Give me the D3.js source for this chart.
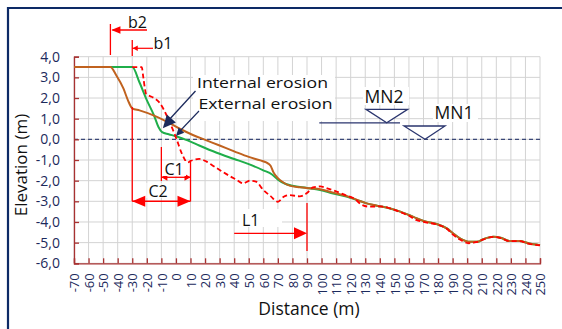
<!DOCTYPE html>
<html><head><meta charset="utf-8">
<script src="https://cdn.jsdelivr.net/npm/d3@7"></script>
<style>body{margin:0;background:#fff}svg{display:block}text{font-family:"Open Sans","Noto Sans",sans-serif}</style>
</head><body><svg id="c" width="562" height="329"></svg>
<script>
const xTickLabels = [-70,-60,-50,-40,-30,-20,-10,0,10,20,30,40,50,60,70,80,90,100,110,120,130,140,150,160,170,180,190,200,210,220,230,240,250];
const yTickLabels = [4,3,2,1,0,-1,-2,-3,-4,-5,-6];

// profile after erosion (brown)
const brownX = [-70,-45,-41,-36,-33,-30,-25,-15,-6,3,12,21,30,40,50,58,62,65,67,70,74,78,85,92,99,108,117,126,131,138,147,154,163,170,179,186,190,195,202,207,211,218,223,229,236,242,250];
const brownY = [3.5,3.5,3.1,2.45,1.9,1.5,1.4,1.15,0.85,0.5,0.2,-0.05,-0.3,-0.58,-0.85,-1.02,-1.12,-1.28,-1.6,-1.88,-2.1,-2.24,-2.32,-2.37,-2.42,-2.58,-2.74,-2.97,-3.1,-3.21,-3.34,-3.5,-3.75,-3.95,-4.1,-4.31,-4.53,-4.79,-4.96,-4.96,-4.83,-4.71,-4.76,-4.92,-4.92,-5.03,-5.12];
// green profile
const greenX = [-45,-30,-25,-20,-15,-12,-9.5,-5,0,8,16,28,40,50,60,66,70,75,80,90,99,108,117,126,131,138,147,154,163,170,179,186,190,195,202,207,211,218,223,229,236,242,250];
const greenY = [3.5,3.5,2.75,1.9,1.15,0.6,0.35,0.25,0.15,-0.05,-0.3,-0.65,-0.95,-1.2,-1.5,-1.7,-1.95,-2.15,-2.25,-2.35,-2.45,-2.62,-2.77,-2.98,-3.1,-3.21,-3.35,-3.5,-3.75,-3.95,-4.1,-4.31,-4.53,-4.79,-4.96,-4.96,-4.83,-4.71,-4.76,-4.92,-4.92,-5.03,-5.12];
// red dashed profile
const redX = [-30,-23.5,-22.4,-20.5,-18,-15,-11,-6,-2,0.5,4,8,10,12,16,21,26,32,37,42,46,51,55,60,65,70,74,78,85,90,94,99,105,110,117,122,128,133,140,147,155,160,165,170,179,186,190,195,201,206,211,218,223,229,236,242,250];
const redY = [3.5,3.5,3.0,2.2,2.1,2.0,1.75,1.1,0.45,0,-0.68,-1.12,-1.05,-1.0,-0.95,-1.08,-1.3,-1.57,-1.78,-1.97,-2.13,-2.0,-2.05,-2.45,-2.75,-3.02,-2.78,-2.7,-2.76,-2.6,-2.33,-2.28,-2.4,-2.52,-2.72,-2.85,-3.18,-3.26,-3.24,-3.34,-3.55,-3.7,-3.9,-4.0,-4.12,-4.33,-4.6,-4.85,-5.03,-4.98,-4.85,-4.72,-4.78,-4.93,-4.93,-5.05,-5.13];

const svg = d3.select("#c");
const x = d3.scaleLinear().domain([-70,250]).range([74,540]);
const y = d3.scaleLinear().domain([-6,4]).range([263.3,56.7]);
const navy = "#1c2a5c", axisRed = "#a83232", red = "#ff0000";

// frame
svg.append("line").attr("x1",7).attr("x2",562).attr("y1",8).attr("y2",8).attr("stroke","#0d2a66").attr("stroke-width",2.2);
svg.append("line").attr("x1",8).attr("x2",8).attr("y1",7).attr("y2",329).attr("stroke","#0d2a66").attr("stroke-width",2.2);

// grid
const g = svg.append("g");
g.selectAll(".vg").data(xTickLabels).join("line").attr("x1",d=>x(d)).attr("x2",d=>x(d)).attr("y1",y(4)).attr("y2",y(-6)).attr("stroke","#d3d3d3").attr("stroke-width",1);
g.selectAll(".hg").data(yTickLabels).join("line").attr("x1",x(-70)).attr("x2",x(250)).attr("y1",d=>y(d)).attr("y2",d=>y(d)).attr("stroke","#d3d3d3").attr("stroke-width",1);

// zero dashed line
svg.append("line").attr("x1",x(-70)).attr("x2",x(250)).attr("y1",y(0)).attr("y2",y(0)).attr("stroke","#3b4878").attr("stroke-width",1.1).attr("stroke-dasharray","4,3");

// axes
const ya = svg.append("g").attr("transform",`translate(${x(-70)},0)`)
  .call(d3.axisLeft(y).tickValues(yTickLabels).tickSize(-5).tickPadding(14).tickFormat(d=>d.toFixed(1).replace(".",",")));
ya.select(".domain").attr("stroke",axisRed).attr("stroke-width",1.3);
ya.selectAll(".tick line").attr("stroke",axisRed).attr("stroke-width",1.3);
ya.selectAll(".tick text").attr("fill",navy).attr("font-size",14).attr("font-family","'Open Sans',sans-serif");

const xa = svg.append("g").attr("transform",`translate(0,${y(-6)})`)
  .call(d3.axisBottom(x).tickValues(xTickLabels).tickSize(-5).tickFormat(d=>String(d)));
xa.select(".domain").attr("stroke",axisRed).attr("stroke-width",1.3);
xa.selectAll(".tick line").attr("stroke",axisRed).attr("stroke-width",1.3);
xa.selectAll(".tick text").attr("fill",navy).attr("font-size",13).attr("font-family","'Open Sans',sans-serif")
  .attr("transform","rotate(-90)").attr("text-anchor","end").attr("x",-10).attr("y",0).attr("dy","0.36em");

// axis titles
svg.append("text").attr("x",309).attr("y",315).attr("text-anchor","middle").attr("font-size",17.5).attr("fill","#111").text("Distance (m)");
svg.append("text").attr("transform","translate(27,165) rotate(-90)").attr("text-anchor","middle").attr("font-size",17).attr("fill","#111").text("Elevation (m)");

// curves
const line = d3.line().x(d=>x(d[0])).y(d=>y(d[1])).curve(d3.curveMonotoneX);
const zip = (a,b)=>a.map((v,i)=>[v,b[i]]);
svg.append("path").attr("d",line(zip(greenX,greenY))).attr("fill","none").attr("stroke","#1fae4a").attr("stroke-width",2);
svg.append("path").attr("d",line(zip(brownX,brownY))).attr("fill","none").attr("stroke","#c0621f").attr("stroke-width",2);
svg.append("path").attr("d",line(zip(redX,redY))).attr("fill","none").attr("stroke",red).attr("stroke-width",1.8).attr("stroke-dasharray","5,3");

// helpers
function arrowHead(tx,ty,dir,len,half,color){
  const bx = tx - Math.cos(dir)*len, by = ty - Math.sin(dir)*len;
  const px = -Math.sin(dir)*half, py = Math.cos(dir)*half;
  svg.append("path").attr("d",`M${tx},${ty}L${bx+px},${by+py}L${bx-px},${by-py}Z`).attr("fill",color);
}
function vline(xv,y1,y2){svg.append("line").attr("x1",xv).attr("x2",xv).attr("y1",y1).attr("y2",y2).attr("stroke",red).attr("stroke-width",1.3);}
function hline(x1,x2,yv,w,c){svg.append("line").attr("x1",x1).attr("x2",x2).attr("y1",yv).attr("y2",yv).attr("stroke",c||red).attr("stroke-width",w||1.3);}
function label(t,xv,yv,fs,tl){const e=svg.append("text").attr("x",xv).attr("y",yv).attr("font-size",fs||15.5).attr("fill","#111").text(t); if(tl) e.attr("textLength",tl).attr("lengthAdjust","spacingAndGlyphs"); return e;}
function wbox(x0,y0,w,h,op){svg.append("rect").attr("x",x0).attr("y",y0).attr("width",w).attr("height",h).attr("fill","#fff").attr("opacity",op==null?1:op);}

// b2
vline(x(-45),24,55);
hline(x(-45)+2,147,30,1.5);
arrowHead(x(-45)+1,30,Math.PI,9,3.8,red);
label("b2",128,28,16);
// b1
vline(x(-30),40,56);
vline(x(-30),107,y(-3));
hline(x(-30),153,48.3,1.2);
arrowHead(x(-30)+0.5,48.3,Math.PI,5,2.8,red);
label("b1",153.5,48.5,16);

// C2 and C1
vline(x(-10),147,181);
vline(x(10),160,y(-3));
hline(x(-30),x(10),y(-3),1.5);
arrowHead(x(-30),y(-3),Math.PI,13,5.5,red);
arrowHead(x(10),y(-3),0,13,5.5,red);
wbox(146,183,26,15,0.6);
label("C2",148.5,197,16);
hline(x(-10),x(10),177.3,1.3);
arrowHead(x(-10),177.3,Math.PI,6,3.5,red);
arrowHead(x(10),177.3,0,6,3.5,red);
wbox(163,161,23,15,1);
label("C1",164.5,175,16);

// L1
vline(x(90),203,251);
hline(x(40),x(90)-8,233.3,1.3);
arrowHead(x(90),233.3,0,13,6,red);
wbox(239,209,43,18,1);
label("L1",242,225.5,16);

// erosion labels
wbox(193,75,142,46,1);
label("Internal erosion",197,88.3,14.8,131);
label("External erosion",198.5,108.8,14.8,134);
// arrows to curve
svg.append("line").attr("x1",195.5).attr("y1",91).attr("x2",168).attr("y2",121).attr("stroke",navy).attr("stroke-width",1.3);
arrowHead(162.8,128.3,Math.atan2(128.3-91,162.8-195.5),13,6,navy);
svg.append("line").attr("x1",199).attr("y1",111).attr("x2",180).attr("y2",131).attr("stroke",navy).attr("stroke-width",1.1);
arrowHead(176,136,Math.atan2(136-111,176-199),8,3.8,navy);

// MN2 / MN1
hline(319.3,400,y(0.8),1.3,"#2a356e");
svg.append("path").attr("d",`M366,109.3L407.7,109.3L386.7,${y(0.8)}Z`).attr("fill","#fff").attr("stroke","#2a356e").attr("stroke-width",1.3);
svg.append("path").attr("d",`M404,126L445,126L425,${y(0)}Z`).attr("fill","#fff").attr("stroke","#2a356e").attr("stroke-width",1.3);
wbox(363,87,46,18,1);
label("MN2",364.5,102.7,17.5);
wbox(433,104,45,18,1);
label("MN1",434.5,119.3,17.5);
</script></body></html>
